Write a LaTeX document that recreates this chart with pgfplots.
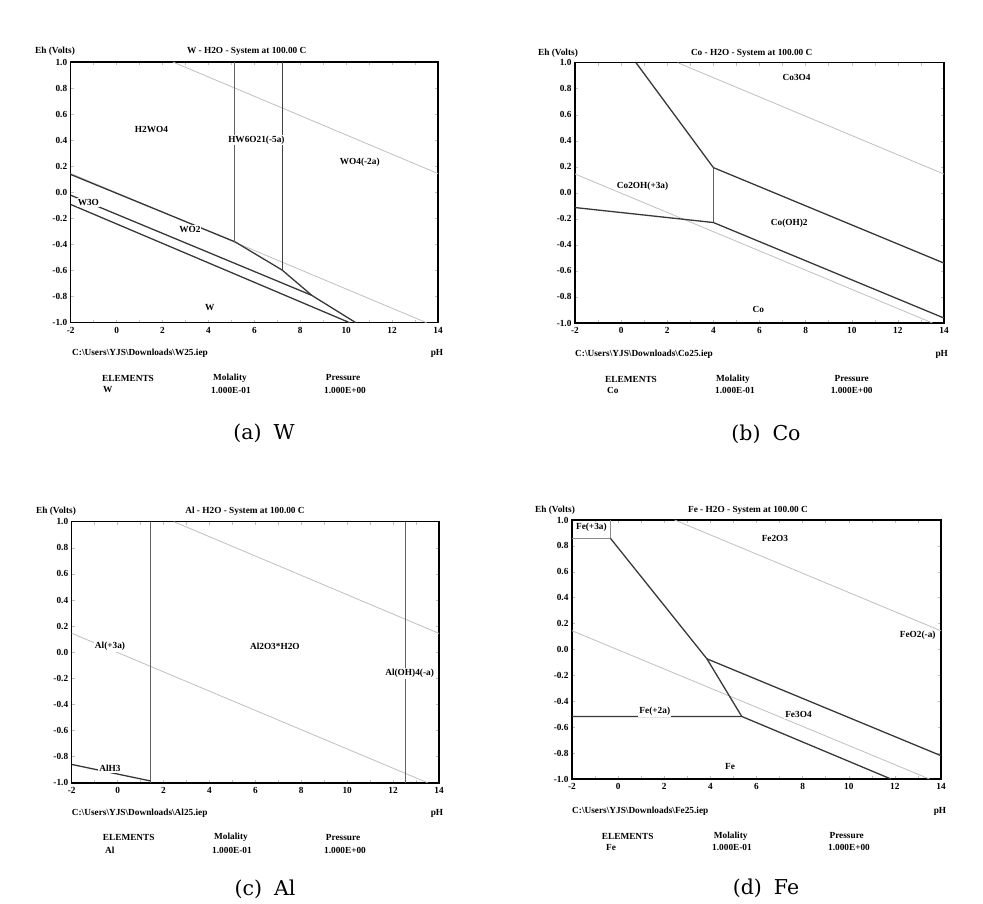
\documentclass[border=0pt]{standalone}
\usepackage{pgfplots}
\pgfplotsset{compat=1.18}
\usepackage{fontspec}
\setmainfont{Liberation Serif}
\newfontfamily\capfont{DejaVu Serif}
\newcommand\lf{\fontsize{9.3}{11}\selectfont\bfseries}
\newcommand\capf{\capfont\fontsize{20.5}{24}\selectfont}
\pgfplotsset{
  pb/.style={
    scale only axis, anchor=south west,
    xmin=-2, xmax=14, ymin=-1, ymax=1,
    axis line style={line width=1.6pt, black},
    xtick={-2,0,2,4,6,8,10,12,14},
    ytick={-1,-0.8,-0.6,-0.4,-0.2,0,0.2,0.4,0.6,0.8,1},
    minor x tick num=1,
    tick align=inside,
    tick style={black!25, line width=0.5pt},
    major tick length=3pt, minor tick length=3pt,
    /pgf/number format/assume math mode=true,
    ticklabel style={font=\lf},
    xticklabel style={yshift=-1pt, /pgf/number format/.cd, fixed, precision=0},
    yticklabel style={/pgf/number format/.cd, fixed, fixed zerofill, precision=1},
    clip=true,
  },
  water/.style={black!25, line width=0.8pt},
  bnd/.style={black!78, line width=1.3pt},
  vl/.style={black!62, line width=1pt},
  thin/.style={black!45, line width=0.9pt},
}
\tikzset{lbl/.style={fill=white, inner sep=1pt, font=\lf}, t/.style={font=\lf, inner sep=0pt}}
\begin{document}
\begin{tikzpicture}
\useasboundingbox (0,0) rectangle (983pt,903pt);
% ---------------- (a) W
\begin{axis}[pb, at={(70.7pt,580.3pt)}, width=367.3pt, height=260.7pt]
\addplot[water] coordinates {(2.45,1) (14,0.144)};
\addplot[water] coordinates {(-2,0.145) (13.5,-1)};
\addplot[bnd] coordinates {(-2,0.137) (5.15,-0.379) (7.21,-0.596) (8.5,-0.79) (10.42,-1)};
\addplot[bnd] coordinates {(-2,-0.022) (8.5,-0.79)};
\addplot[bnd] coordinates {(-2,-0.093) (10.15,-1)};
\addplot[vl] coordinates {(5.15,1) (5.15,-0.379)};
\addplot[black!75, line width=1pt] coordinates {(7.21,1) (7.21,-0.596)};
\node[lbl] at (axis cs:1.52,0.48) {H2WO4};
\node[lbl] at (axis cs:6.09,0.40) {HW6O21(-5a)};
\node[lbl] at (axis cs:10.59,0.234) {WO4(-2a)};
\node[lbl] at (axis cs:-1.23,-0.078) {W3O};
\node[lbl] at (axis cs:3.19,-0.285) {WO2};
\node[lbl] at (axis cs:4.06,-0.885) {W};
\end{axis}
\node[t] at (246.7pt,851.3pt) {W - H2O - System at 100.00 C};
\node[t] at (55pt,851.3pt) {Eh (Volts)};
\node[t, anchor=west] at (72pt,550pt) {C:\textbackslash Users\textbackslash YJS\textbackslash Downloads\textbackslash W25.iep};
\node[t] at (437pt,550pt) {pH};
\node[t, anchor=west] at (102pt,525pt) {ELEMENTS};
\node[t, anchor=west] at (103pt,513pt) {W};
\node[t] at (230pt,525pt) {Molality};
\node[t] at (231pt,513pt) {1.000E-01};
\node[t] at (343pt,525pt) {Pressure};
\node[t] at (345pt,513pt) {1.000E+00};
\node[font=\capf] at (264pt,470pt) {(a)\hspace{12pt}W};
% ---------------- (b) Co
\begin{axis}[pb, at={(575pt,580pt)}, width=369pt, height=260.3pt]
\addplot[water] coordinates {(2.45,1) (14,0.144)};
\addplot[water] coordinates {(-2,0.145) (13.5,-1)};
\addplot[bnd] coordinates {(0.645,1) (4.0,0.194)};
\addplot[vl] coordinates {(4.0,0.194) (4.0,-0.228)};
\addplot[bnd] coordinates {(-2,-0.113) (4.0,-0.228) (14,-0.962)};
\addplot[bnd] coordinates {(4.0,0.194) (14,-0.54)};
\node[lbl] at (axis cs:7.61,0.885) {Co3O4};
\node[lbl] at (axis cs:0.93,0.054) {Co2OH(+3a)};
\node[lbl] at (axis cs:7.29,-0.233) {Co(OH)2};
\node[lbl] at (axis cs:5.95,-0.893) {Co};
\end{axis}
\node[t] at (751.7pt,850pt) {Co - H2O - System at 100.00 C};
\node[t] at (558pt,850pt) {Eh (Volts)};
\node[t, anchor=west] at (575pt,549pt) {C:\textbackslash Users\textbackslash YJS\textbackslash Downloads\textbackslash Co25.iep};
\node[t] at (941.7pt,549pt) {pH};
\node[t, anchor=west] at (605pt,524pt) {ELEMENTS};
\node[t, anchor=west] at (607pt,512.3pt) {Co};
\node[t] at (733pt,524pt) {Molality};
\node[t] at (735pt,512.3pt) {1.000E-01};
\node[t] at (851.7pt,524pt) {Pressure};
\node[t] at (851.7pt,512.3pt) {1.000E+00};
\node[font=\capf] at (766pt,469pt) {(b)\hspace{12pt}Co};
% ---------------- (c) Al
\begin{axis}[pb, at={(71.7pt,120.3pt)}, width=367.3pt, height=261pt]
\addplot[water] coordinates {(2.45,1) (14,0.144)};
\addplot[water] coordinates {(-2,0.145) (13.5,-1)};
\addplot[vl] coordinates {(1.44,1) (1.44,-1)};
\addplot[bnd] coordinates {(-2,-0.86) (1.44,-0.987)};
\addplot[vl] coordinates {(12.52,1) (12.52,-1)};
\node[lbl] at (axis cs:-0.33,0.042) {Al(+3a)};
\node[lbl] at (axis cs:6.85,0.042) {Al2O3*H2O};
\node[lbl] at (axis cs:12.72,-0.162) {Al(OH)4(-a)};
\node[lbl] at (axis cs:-0.33,-0.89) {AlH3};
\end{axis}
\node[t] at (245pt,391.3pt) {Al - H2O - System at 100.00 C};
\node[t] at (56pt,391.3pt) {Eh (Volts)};
\node[t, anchor=west] at (71.7pt,90pt) {C:\textbackslash Users\textbackslash YJS\textbackslash Downloads\textbackslash Al25.iep};
\node[t] at (437pt,90pt) {pH};
\node[t, anchor=west] at (102.7pt,65.3pt) {ELEMENTS};
\node[t, anchor=west] at (105pt,53pt) {Al};
\node[t] at (231pt,65.3pt) {Molality};
\node[t] at (232pt,53pt) {1.000E-01};
\node[t] at (343pt,65.3pt) {Pressure};
\node[t] at (345pt,53pt) {1.000E+00};
\node[font=\capf] at (265pt,14pt) {(c)\hspace{12pt}Al};
% ---------------- (d) Fe
\begin{axis}[pb, at={(572pt,124pt)}, width=369pt, height=259pt]
\addplot[water] coordinates {(2.45,1) (14,0.144)};
\addplot[water] coordinates {(-2,0.145) (13.5,-1)};
\addplot[thin] coordinates {(-2,0.859) (-0.335,0.859) (-0.335,1)};
\addplot[bnd] coordinates {(-0.335,0.859) (3.85,-0.072) (5.36,-0.517)};
\addplot[bnd] coordinates {(-2,-0.517) (5.36,-0.517) (11.83,-1)};
\addplot[bnd] coordinates {(3.85,-0.072) (14,-0.82)};
\node[lbl] at (axis cs:-1.16,0.945) {Fe(+3a)};
\node[lbl] at (axis cs:6.8,0.859) {Fe2O3};
\node[lbl] at (axis cs:12.99,0.113) {FeO2(-a)};
\node[lbl] at (axis cs:1.59,-0.48) {Fe(+2a)};
\node[lbl] at (axis cs:7.82,-0.504) {Fe3O4};
\node[lbl] at (axis cs:4.85,-0.902) {Fe};
\end{axis}
\node[t] at (748pt,393pt) {Fe - H2O - System at 100.00 C};
\node[t] at (555pt,393pt) {Eh (Volts)};
\node[t, anchor=west] at (572pt,91.3pt) {C:\textbackslash Users\textbackslash YJS\textbackslash Downloads\textbackslash Fe25.iep};
\node[t] at (940pt,91.3pt) {pH};
\node[t, anchor=west] at (601.7pt,67pt) {ELEMENTS};
\node[t, anchor=west] at (606pt,55.3pt) {Fe};
\node[t] at (730.7pt,67pt) {Molality};
\node[t] at (732pt,55.3pt) {1.000E-01};
\node[t] at (846.7pt,67pt) {Pressure};
\node[t] at (849pt,55.3pt) {1.000E+00};
\node[font=\capf] at (766pt,15pt) {(d)\hspace{12pt}Fe};
\end{tikzpicture}
\end{document}
